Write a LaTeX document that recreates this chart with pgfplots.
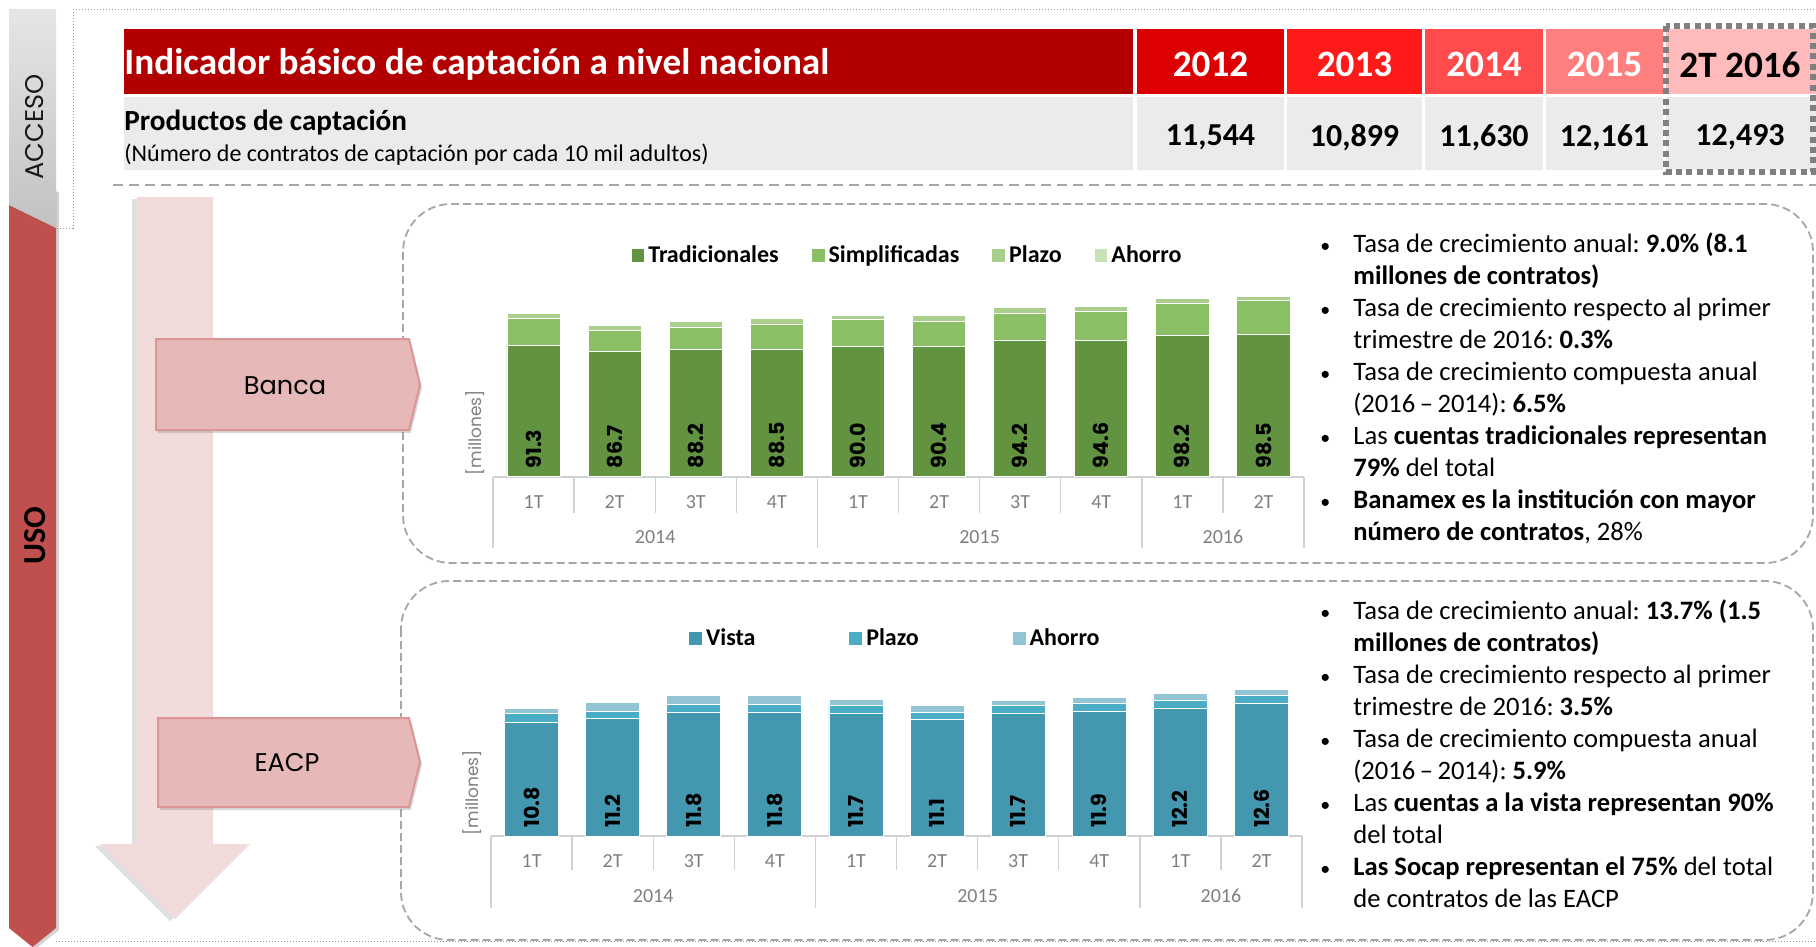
\documentclass[border=0pt]{standalone}
\usepackage{fontspec}
\setmainfont{Carlito}
\newfontfamily\pop{Poppins}
\usepackage{pgfplots}
\usepackage{pgfplotstable}
\pgfplotsset{compat=1.18}
\usetikzlibrary{shadows}
\frenchspacing

\definecolor{trad}{HTML}{619340}
\definecolor{simp}{HTML}{8BBF66}
\definecolor{plaz}{HTML}{AACF8D}
\definecolor{ahor}{HTML}{C8E2B8}
\definecolor{vista}{HTML}{4397AE}
\definecolor{eplaz}{HTML}{4BACC6}
\definecolor{eahor}{HTML}{92C4D4}
\definecolor{usored}{HTML}{C0504D}
\definecolor{hd0}{HTML}{B20000}
\definecolor{hd1}{HTML}{DD0000}
\definecolor{hd2}{HTML}{FF1A1A}
\definecolor{hd3}{HTML}{FF4B4B}
\definecolor{hd4}{HTML}{FF7F7F}
\definecolor{hd5}{HTML}{FFBBBB}
\definecolor{rowgray}{HTML}{EBEBEB}
\definecolor{pinkarrow}{HTML}{F2DCDB}
\definecolor{pentfill}{HTML}{E6B9B8}
\definecolor{pentdraw}{HTML}{D99694}
\definecolor{ticktext}{HTML}{7F7F7F}

\pgfplotstableread{
x zero trad simp plaz ahor
0 0 91.3 18.3 3.4 0.4
1 0 86.7 14.6 3.3 0.4
2 0 88.2 15.3 4.0 0.4
3 0 88.5 17.4 3.8 0.4
4 0 90.0 18.8 3.3 0.4
5 0 90.4 17.4 4.0 0.4
6 0 94.2 19.2 3.8 0.4
7 0 94.6 19.7 3.8 0.4
8 0 98.2 21.8 3.5 0.4
9 0 98.5 23.4 2.8 0.4
}\banca

\pgfplotstableread{
x zero vista plaz ahor
0 0 10.8 0.86 0.51
1 0 11.2 0.67 0.83
2 0 11.8 0.76 0.83
3 0 11.8 0.76 0.79
4 0 11.7 0.70 0.63
5 0 11.1 0.63 0.67
6 0 11.7 0.73 0.44
7 0 11.9 0.73 0.54
8 0 12.2 0.76 0.60
9 0 12.6 0.79 0.60
}\eacp

\pgfplotsset{
  chartbase/.style={
    scale only axis, width=405.5pt,
    xmin=-0.5, xmax=9.5, ymin=0,
    ybar stacked,
    axis y line=none, axis x line*=bottom,
    x axis line style={draw=black!18, line width=0.8pt, -},
    xtick={0,...,9},
    xticklabels={1T,2T,3T,4T,1T,2T,3T,4T,1T,2T},
    major tick length=0pt,
    x tick label style={font=\fontsize{10}{11}\selectfont, text=ticktext, anchor=center, yshift=-12.5pt},
    clip=false,
    legend columns=-1,
  },
  labelaxis/.style={
    scale only axis, width=405.5pt,
    xmin=-0.5, xmax=9.5, ymin=0,
    axis lines=none, clip=false,
  },
  labelstyle/.style={
    draw=none, mark=none,
    point meta=explicit,
    nodes near coords={\pgfmathprintnumber[fixed,fixed zerofill,precision=1,assume math mode=true]{\pgfplotspointmeta}},
    every node near coord/.append style={rotate=90, anchor=west, inner xsep=4pt, inner ysep=0pt, font=\pop\bfseries\fontsize{10.3}{11}\selectfont, text=black},
  },
}

\begin{document}
\begin{tikzpicture}[x=0.5pt,y=-0.5pt]
\path[use as bounding box] (0,0) rectangle (1816,947);

% frames
\draw[black!40, densely dotted, line width=0.5pt] (57,228) -- (73,228) -- (73,10) -- (1816,10);
\draw[black!40, densely dotted, line width=0.5pt] (56,941) -- (1816,941);
\draw[black!35, dash pattern=on 5pt off 3pt, line width=1pt] (113,185) -- (1816,185);

% USO bar and ACCESO tab
\fill[usored, drop shadow={shadow xshift=1.5pt, shadow yshift=-1pt, opacity=0.35}] (9,190) -- (56,190) -- (56,928) -- (32.5,947) -- (9,928) -- cycle;
\shade[top color=black!10, bottom color=black!24] (9,9) -- (56,9) -- (56,228) -- (9,205) -- cycle;
\node[rotate=90, font=\pop\fontsize{12.8}{14}\selectfont, text=black!90] at (35,127) {ACCESO};
\node[rotate=90, font=\bfseries\fontsize{16}{18}\selectfont] at (35,536) {USO};

% header
\fill[hd0] (124,29) rectangle (1133,94);
\fill[hd1] (1137,29) rectangle (1284,94);
\fill[hd2] (1287,29) rectangle (1422,94);
\fill[hd3] (1425,29) rectangle (1543,94);
\fill[hd4] (1546,29) rectangle (1663,94);
\fill[hd5] (1666,29) rectangle (1816,94);
\fill[rowgray] (124,97) rectangle (1133,170);
\fill[rowgray] (1137,97) rectangle (1284,170);
\fill[rowgray] (1287,97) rectangle (1422,170);
\fill[rowgray] (1425,97) rectangle (1543,170);
\fill[rowgray] (1546,97) rectangle (1663,170);
\fill[rowgray] (1666,97) rectangle (1816,170);
\draw[black!50, line width=3pt, dash pattern=on 3pt off 2.2pt] (1666,26) rectangle (1813,172);

\node[anchor=west, inner sep=0, text=white, font=\bfseries\fontsize{18.6}{20}\selectfont] at (124,64.5) {Indicador básico de captación a nivel nacional};
\node[text=white, font=\bfseries\fontsize{18.6}{20}\selectfont] at (1210.5,64.5) {2012};
\node[text=white, font=\bfseries\fontsize{18.6}{20}\selectfont] at (1354.5,64.5) {2013};
\node[text=white, font=\bfseries\fontsize{18.6}{20}\selectfont] at (1484,64.5) {2014};
\node[text=white, font=\bfseries\fontsize{18.6}{20}\selectfont] at (1604.5,64.5) {2015};
\node[text=black, font=\bfseries\fontsize{18.6}{20}\selectfont] at (1740,64.5) {2T 2016};
\node[anchor=west, inner sep=0, font=\bfseries\fontsize{14.6}{16}\selectfont] at (124,123) {Productos de captación};
\node[anchor=west, inner sep=0, font=\fontsize{12}{13}\selectfont] at (124,154.5) {(Número de contratos de captación por cada 10 mil adultos)};
\node[font=\bfseries\fontsize{16}{18}\selectfont] at (1210.5,137.5) {11,544};
\node[font=\bfseries\fontsize{16}{18}\selectfont] at (1354.5,137.5) {10,899};
\node[font=\bfseries\fontsize{16}{18}\selectfont] at (1484,137.5) {11,630};
\node[font=\bfseries\fontsize{16}{18}\selectfont] at (1604.5,137.5) {12,161};
\node[font=\bfseries\fontsize{16}{18}\selectfont] at (1740,137.5) {12,493};

% pink down arrow
\fill[pinkarrow, drop shadow={shadow xshift=-2.5pt, shadow yshift=-1pt, opacity=0.25}] (137,197) -- (213,197) -- (213,844) -- (250,844) -- (175,919) -- (100,844) -- (137,844) -- cycle;

% rounded dashed boxes
\draw[black!35, rounded corners=24pt, dash pattern=on 4pt off 2pt, line width=0.9pt] (403,204) rectangle (1813,563);
\draw[black!35, rounded corners=24pt, dash pattern=on 4pt off 2pt, line width=0.9pt] (401,581) rectangle (1813,940);

% pentagons
\filldraw[fill=pentfill, draw=pentdraw, line width=1pt, drop shadow={shadow xshift=1pt, shadow yshift=-1.5pt, opacity=0.3}] (156,339) -- (409,339) -- (420,385) -- (409,430) -- (156,430) -- cycle;
\node[font=\pop\fontsize{12.8}{14}\selectfont] at (285,386) {Banca};
\filldraw[fill=pentfill, draw=pentdraw, line width=1pt, drop shadow={shadow xshift=1pt, shadow yshift=-1.5pt, opacity=0.3}] (158,718) -- (409,718) -- (420,762) -- (409,807) -- (158,807) -- cycle;
\node[font=\pop\fontsize{12.8}{14}\selectfont] at (287,763) {EACP};

% Banca chart
\begin{axis}[chartbase, at={(246.5pt,-238.35pt)}, anchor=south west,
  height=93.75pt, ymax=130, bar width=26.6pt,
  legend style={draw=none, fill=none, at={(0.5,1)}, anchor=center, xshift=5pt, yshift=17pt,
    font=\bfseries\fontsize{12}{13}\selectfont,
    /tikz/every even column/.append style={column sep=14.5pt}},
  legend image code/.code={\fill[#1, draw=none] (0pt,-3.2pt) rectangle (6.4pt,3.2pt);},
]
\addplot[fill=trad, draw=white, line width=0.4pt] table[x=x, y=trad] {\banca};
\addplot[fill=simp, draw=white, line width=0.4pt] table[x=x, y=simp] {\banca};
\addplot[fill=plaz, draw=white, line width=0.4pt] table[x=x, y=plaz] {\banca};
\addplot[fill=ahor, draw=white, line width=0.4pt] table[x=x, y=ahor] {\banca};
\legend{Tradicionales,Simplificadas,Plazo,Ahorro}
\pgfplotsinvokeforeach{-0.5,0.5,1.5,2.5,3.5,4.5,5.5,6.5,7.5,8.5,9.5}{\draw[black!18, line width=0.7pt] (axis cs:#1,0) -- ++(0pt,-18pt);}
\pgfplotsinvokeforeach{-0.5,3.5,7.5,9.5}{\draw[black!18, line width=0.7pt] (axis cs:#1,0) -- ++(0pt,-35.5pt);}
\node[font=\fontsize{10}{11}\selectfont, text=ticktext, yshift=-30pt] at (axis cs:1.5,0) {2014};
\node[font=\fontsize{10}{11}\selectfont, text=ticktext, yshift=-30pt] at (axis cs:5.5,0) {2015};
\node[font=\fontsize{10}{11}\selectfont, text=ticktext, yshift=-30pt] at (axis cs:8.5,0) {2016};
\end{axis}
\begin{axis}[labelaxis, at={(246.5pt,-238.35pt)}, anchor=south west, height=93.75pt, ymax=130]
\addplot[labelstyle] table[x=x, y=zero, meta=trad] {\banca};
\end{axis}
\node[rotate=90, anchor=west, inner sep=0, font=\pop\fontsize{8.5}{10}\selectfont, text=ticktext] at (475,476) {[millones]};

% EACP chart
\begin{axis}[chartbase, at={(245.5pt,-418pt)}, anchor=south west,
  height=78.75pt, ymax=15, bar width=27pt,
  legend style={draw=none, fill=none, at={(0.5,1)}, anchor=center, yshift=20pt,
    font=\bfseries\fontsize{12}{13}\selectfont,
    /tikz/every even column/.append style={column sep=45pt}},
  legend image code/.code={\fill[#1, draw=none] (0pt,-3.2pt) rectangle (6.4pt,3.2pt);},
]
\addplot[fill=vista, draw=white, line width=0.4pt] table[x=x, y=vista] {\eacp};
\addplot[fill=eplaz, draw=white, line width=0.4pt] table[x=x, y=plaz] {\eacp};
\addplot[fill=eahor, draw=white, line width=0.4pt] table[x=x, y=ahor] {\eacp};
\legend{Vista,Plazo,Ahorro}
\pgfplotsinvokeforeach{-0.5,0.5,1.5,2.5,3.5,4.5,5.5,6.5,7.5,8.5,9.5}{\draw[black!18, line width=0.7pt] (axis cs:#1,0) -- ++(0pt,-17pt);}
\pgfplotsinvokeforeach{-0.5,3.5,7.5,9.5}{\draw[black!18, line width=0.7pt] (axis cs:#1,0) -- ++(0pt,-36pt);}
\node[font=\fontsize{10}{11}\selectfont, text=ticktext, yshift=-30pt] at (axis cs:1.5,0) {2014};
\node[font=\fontsize{10}{11}\selectfont, text=ticktext, yshift=-30pt] at (axis cs:5.5,0) {2015};
\node[font=\fontsize{10}{11}\selectfont, text=ticktext, yshift=-30pt] at (axis cs:8.5,0) {2016};
\end{axis}
\begin{axis}[labelaxis, at={(245.5pt,-418pt)}, anchor=south west, height=78.75pt, ymax=15]
\addplot[labelstyle] table[x=x, y=zero, meta=vista] {\eacp};
\end{axis}
\node[rotate=90, anchor=west, inner sep=0, font=\pop\fontsize{8.5}{10}\selectfont, text=ticktext] at (472,836) {[millones]};

% bullet texts
\newcommand{\bul}{{\fontsize{10}{10}\selectfont •}}
\node[anchor=north west, inner sep=0, font=\fontsize{13.3}{16}\selectfont] at (1320,229.5) {%
\begin{tabular}{@{}p{16.5pt}@{}l@{}}
\bul & Tasa de crecimiento anual: \textbf{9.0\% (8.1}\\
  & \textbf{millones de contratos)}\\
\bul & Tasa de crecimiento respecto al primer\\
  & trimestre de 2016: \textbf{0.3\%}\\
\bul & Tasa de crecimiento compuesta anual\\
  & (2016\,–\,2014): \textbf{6.5\%}\\
\bul & Las \textbf{cuentas tradicionales representan}\\
  & \textbf{79\%} del total\\
\bul & \textbf{Banamex es la institución con mayor}\\
  & \textbf{número de contratos}, 28\%
\end{tabular}};
\node[anchor=north west, inner sep=0, font=\fontsize{13.3}{16}\selectfont] at (1320,596.5) {%
\begin{tabular}{@{}p{16.5pt}@{}l@{}}
\bul & Tasa de crecimiento anual: \textbf{13.7\% (1.5}\\
  & \textbf{millones de contratos)}\\
\bul & Tasa de crecimiento respecto al primer\\
  & trimestre de 2016: \textbf{3.5\%}\\
\bul & Tasa de crecimiento compuesta anual\\
  & (2016\,–\,2014): \textbf{5.9\%}\\
\bul & Las \textbf{cuentas a la vista representan 90\%}\\
  & del total\\
\bul & \textbf{Las Socap representan el 75\%} del total\\
  & de contratos de las EACP
\end{tabular}};
\end{tikzpicture}
\end{document}
